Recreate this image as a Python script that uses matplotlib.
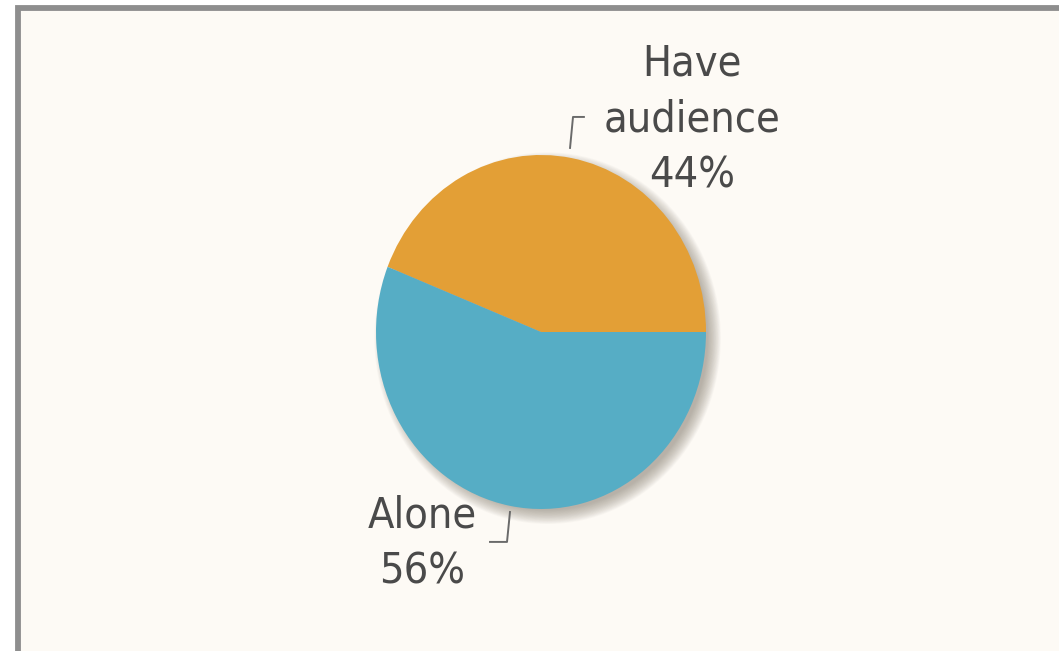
import matplotlib
matplotlib.use('Agg')
from matplotlib import pyplot as plt
from matplotlib.patches import Rectangle, Circle
import numpy as np

labels = ['Have\naudience', 'Alone']
shares = [44, 56]
colors = ['#e39f36', '#56adc5']

W, H = 1059, 651
fig = plt.figure(figsize=(W / 100, H / 100), dpi=100)
fig.patch.set_facecolor('white')

# framed panel, runs off the right and bottom edge
fig.patches.append(Rectangle((18 / W, -10 / H), 1.2, (H + 2) / H,
                             transform=fig.transFigure, facecolor='#fdfaf5',
                             edgecolor='#8e8e8e', linewidth=4.2, zorder=-10))

# pie axes: slightly taller than wide
cx, cy, rx, ry = 541, 332, 165, 177
ax = fig.add_axes([(cx - rx) / W, (H - cy - ry) / H, 2 * rx / W, 2 * ry / H])
ax.set_facecolor('none')

# soft drop shadow toward the lower right
for r in np.linspace(1.05, 0.97, 20):
    ax.add_patch(Circle((0.04, -0.035), r, facecolor='#857a6e', alpha=0.035,
                        linewidth=0, clip_on=False, zorder=0))

wedges, _ = ax.pie(shares, colors=colors, startangle=0, counterclock=True,
                   wedgeprops=dict(linewidth=0))
for w in wedges:
    w.set_zorder(2)
ax.set_aspect('auto')
ax.set_xlim(-1, 1)
ax.set_ylim(-1, 1)
ax.axis('off')

font = dict(family='DejaVu Sans', fontstretch='condensed', fontsize=31,
            color='#4a4a4a', ha='center', va='center', linespacing=1.42)

ax.text(0.915, 1.2, f'{labels[0]}\n{shares[0]}%', clip_on=False, **font)
ax.text(-0.72, -1.195, f'{labels[1]}\n{shares[1]}%', clip_on=False, **font)

# leader lines
ax.plot([0.176, 0.194, 0.26], [1.04, 1.215, 1.215], color='#6a6a6a',
        linewidth=1.4, clip_on=False)
ax.plot([-0.188, -0.206, -0.309], [-1.017, -1.186, -1.186], color='#6a6a6a',
        linewidth=1.4, clip_on=False)

fig.savefig('out.png', dpi=100, facecolor=fig.get_facecolor())
